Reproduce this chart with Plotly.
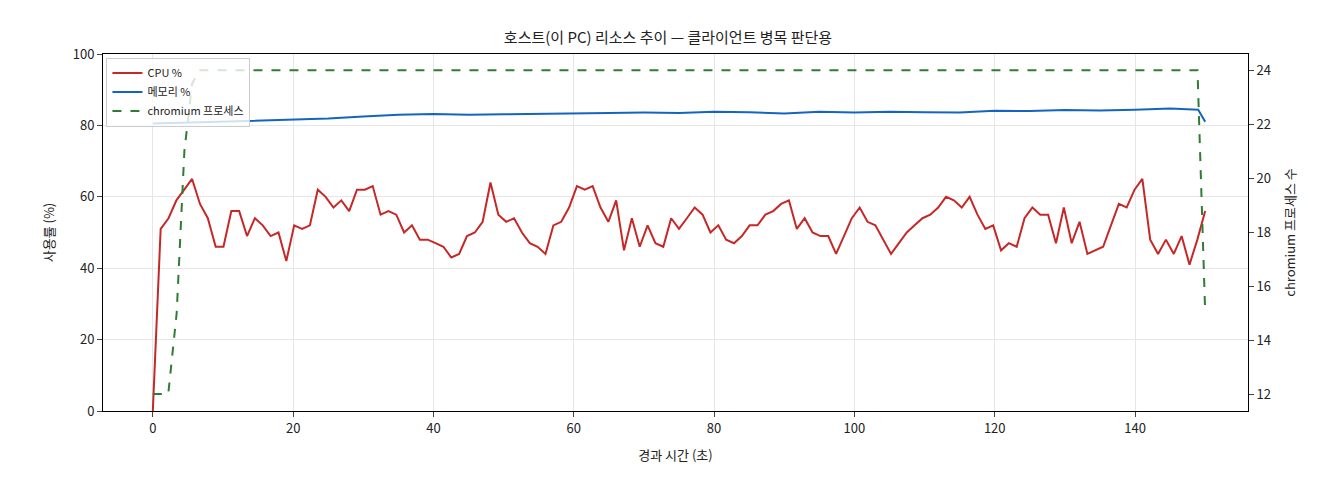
import plotly.graph_objects as go

cpu = [0, 51, 54, 59, 62, 65, 58, 54, 46, 46, 56, 56, 49, 54, 52, 49, 50, 42, 52, 51,
       52, 62, 60, 57, 59, 56, 62, 62, 63, 55, 56, 55, 50, 52, 48, 48, 47, 46, 43, 44,
       49, 50, 53, 64, 55, 53, 54, 50, 47, 46, 44, 52, 53, 57, 63, 62, 63, 57, 53, 59,
       45, 54, 46, 52, 47, 46, 54, 51, 54, 57, 55, 50, 52, 48, 47, 49, 52, 52, 55, 56,
       58, 59, 51, 54, 50, 49, 49, 44, 49, 54, 57, 53, 52, 48, 44, 47, 50, 52, 54, 55,
       57, 60, 59, 57, 60, 55, 51, 52, 45, 47, 46, 54, 57, 55, 55, 47, 57, 47, 53, 44,
       45, 46, 52, 58, 57, 62, 65, 48, 44, 48, 44, 49, 41, 48, 56]
step = 150 / (len(cpu) - 1)
t_cpu = [round(i * step, 2) for i in range(len(cpu))]

t_mem = [0, 5, 10, 15, 20, 25, 30, 35, 40, 45, 50, 55, 60, 65, 70, 75, 80, 85, 90, 95,
         100, 105, 110, 115, 120, 125, 130, 135, 140, 145, 149, 150]
mem = [80.5, 80.8, 81.0, 81.4, 81.5, 81.9, 82.5, 83.0, 83.2, 83.0, 83.1, 83.3, 83.4, 83.5, 83.6, 83.5,
       83.8, 83.7, 83.3, 83.8, 83.6, 83.8, 83.7, 83.6, 84.1, 84.0, 84.3, 84.2, 84.4, 84.7, 84.4, 81.0]

t_proc = [0, 2.2, 3.4, 4.5, 5.6, 6.7, 148.9, 150]
proc = [12, 12, 15, 21, 23.5, 24, 24, 15]

fig = go.Figure()
fig.add_trace(go.Scatter(x=t_cpu, y=cpu, mode="lines", name="CPU %",
                         line=dict(color="#c62828", width=2)))
fig.add_trace(go.Scatter(x=t_mem, y=mem, mode="lines", name="메모리 %",
                         line=dict(color="#1565c0", width=2)))
fig.add_trace(go.Scatter(x=t_proc, y=proc, mode="lines", name="chromium 프로세스", yaxis="y2",
                         line=dict(color="#2e7d32", width=2, dash="dash")))

font = "Noto Sans CJK KR"
fig.update_layout(
    width=1320, height=480, plot_bgcolor="white", paper_bgcolor="white",
    margin=dict(l=95, r=80, t=46, b=77),
    font=dict(family=font, size=13, color="#222"),
    title=dict(text="호스트(이 PC) 리소스 추이 — 클라이언트 병목 판단용", x=0.5, y=0.95, xanchor="center",
               font=dict(size=15)),
    xaxis=dict(title=dict(text="경과 시간 (초)", font=dict(size=13)), range=[-7.1, 156.1],
               tickvals=[0, 20, 40, 60, 80, 100, 120, 140], automargin=False,
               showgrid=True, gridcolor="#e6e6e6", showline=True, linecolor="black", mirror=True,
               ticks="outside", zeroline=False),
    yaxis=dict(title=dict(text="사용률 (%)", font=dict(size=13)), range=[0, 100],
               tickvals=[0, 20, 40, 60, 80, 100], automargin=False,
               showgrid=True, gridcolor="#e6e6e6", showline=True, linecolor="black",
               ticks="outside", zeroline=False),
    yaxis2=dict(title=dict(text="chromium 프로세스 수", font=dict(size=13)), overlaying="y", side="right",
                range=[11.37, 24.6], automargin=False,
                tickvals=[12, 14, 16, 18, 20, 22, 24], showgrid=False, showline=True,
                linecolor="black", ticks="outside", zeroline=False),
    legend=dict(x=0.003, y=0.99, xanchor="left", yanchor="top", bgcolor="rgba(255,255,255,0.8)",
                bordercolor="#ccc", borderwidth=1, font=dict(size=11)),
)
fig.write_html("out.html")
